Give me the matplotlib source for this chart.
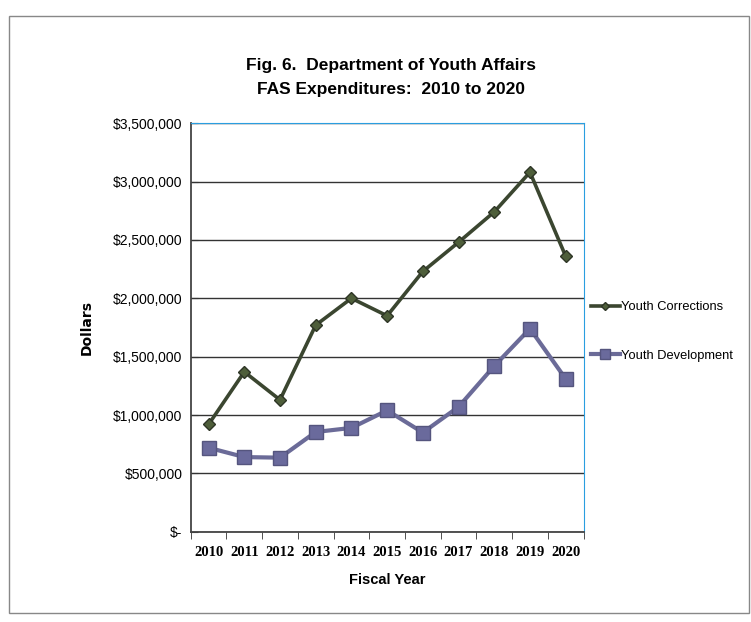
import matplotlib.pyplot as plt
from matplotlib.patches import Rectangle
from matplotlib.ticker import FuncFormatter

years = ['2010', '2011', '2012', '2013', '2014', '2015', '2016', '2017', '2018', '2019', '2020']
corrections = [920000, 1370000, 1130000, 1770000, 2000000, 1850000, 2230000, 2480000, 2740000, 3080000, 2360000]
development = [720000, 640000, 635000, 855000, 890000, 1040000, 850000, 1070000, 1420000, 1740000, 1310000]

plt.rcParams['font.family'] = ['Liberation Sans', 'DejaVu Sans']

fig = plt.figure(figsize=(7.51, 6.22), dpi=100)
ax = fig.add_axes([0.254, 0.145, 0.523, 0.657])

x = range(len(years))
ax.plot(x, corrections, color='#3b4630', lw=2.6, marker='D', ms=6,
        mfc='#4e5e3a', mec='#2e3526', label='Youth Corrections', zorder=3)
ax.plot(x, development, color='#6b6b98', lw=3, marker='s', ms=10,
        mfc='#6a6a9c', mec='#55557e', label='Youth Development', zorder=3)

ax.set_xlim(-0.5, len(years) - 0.5)
ax.set_ylim(0, 3500000)
ax.set_yticks(range(0, 3500001, 500000))
ax.yaxis.set_major_formatter(FuncFormatter(lambda v, p: '$-' if v == 0 else '${:,.0f}'.format(v)))
ax.yaxis.grid(True, color='#333333', lw=1)
ax.set_axisbelow(True)

ax.set_xticks(list(x))
ax.set_xticklabels(years, fontsize=10.5, fontweight='bold', family=['Liberation Serif', 'DejaVu Serif'])
ax.set_xticks([i - 0.5 for i in range(len(years) + 1)], minor=True)
ax.tick_params(axis='x', which='major', length=0, pad=10)
ax.tick_params(axis='x', which='minor', length=5, color='#333333')
ax.tick_params(axis='y', length=5, direction='in', labelsize=10, color='#333333', pad=6)

for side in ['top', 'right']:
    ax.spines[side].set_color('#2a9ee0')
for side in ['left', 'bottom']:
    ax.spines[side].set_color('#444444')
    ax.spines[side].set_linewidth(1.3)

ax.set_xlabel('Fiscal Year', fontsize=10.5, fontweight='bold', labelpad=10)
ax.set_ylabel('Dollars', fontsize=10, fontweight='bold', family='DejaVu Sans', labelpad=14)
fig.text(0.52, 0.875, 'Fig. 6.  Department of Youth Affairs\nFAS Expenditures:  2010 to 2020',
         ha='center', va='center', fontsize=12.5, fontweight='bold', linespacing=1.75)

ax.legend(loc='center left', bbox_to_anchor=(0.99, 0.49), frameon=False,
          fontsize=9.3, handlelength=2.2, handletextpad=0.1, labelspacing=2.8,
          markerscale=0.7)

fig.add_artist(Rectangle((0.012, 0.015), 0.985, 0.96, transform=fig.transFigure,
                         fill=False, ec='#888888', lw=1))

fig.savefig('out.png', dpi=100)
